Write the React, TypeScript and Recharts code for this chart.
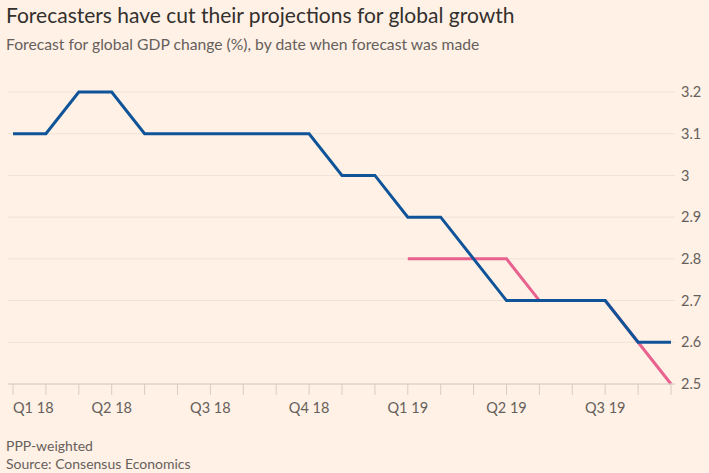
import React from "react";
import { LineChart, Line, XAxis, YAxis, CartesianGrid } from "recharts";

const months = [
  "Jan 18", "Feb 18", "Mar 18", "Apr 18", "May 18", "Jun 18", "Jul 18", "Aug 18", "Sep 18",
  "Oct 18", "Nov 18", "Dec 18", "Jan 19", "Feb 19", "Mar 19", "Apr 19", "May 19", "Jun 19",
  "Jul 19", "Aug 19", "Sep 19",
];
const quarterLabels: Record<string, string> = {
  "Jan 18": "Q1 18", "Apr 18": "Q2 18", "Jul 18": "Q3 18", "Oct 18": "Q4 18",
  "Jan 19": "Q1 19", "Apr 19": "Q2 19", "Jul 19": "Q3 19",
};
const forecast2019 = [3.1, 3.1, 3.2, 3.2, 3.1, 3.1, 3.1, 3.1, 3.1, 3.1, 3.0, 3.0, 2.9, 2.9, 2.8, 2.7, 2.7, 2.7, 2.7, 2.6, 2.6];
const forecast2020: (number | null)[] = [null, null, null, null, null, null, null, null, null, null, null, null, 2.8, 2.8, 2.8, 2.8, 2.7, 2.7, 2.7, 2.6, 2.5];
const yTicks = [2.5, 2.6, 2.7, 2.8, 2.9, 3, 3.1, 3.2];

const data = months.map((m, i) => ({ month: m, f2019: forecast2019[i], f2020: forecast2020[i] }));

const FONT = "Lato, 'Open Sans', sans-serif";

const XTick = (props: any) => {
  const { x, y, payload, index } = props;
  const label = quarterLabels[payload.value];
  if (!label) return null;
  return (
    <text x={x} y={y + 18} textAnchor={index === 0 ? "start" : "middle"} fill="#66605C" fontSize={14.5} fontFamily={FONT}>
      {label}
    </text>
  );
};

export default function App() {
  return (
    <div style={{ position: "fixed", left: 0, top: 0, width: 709, height: 473, background: "#FFF1E5", fontFamily: FONT, overflow: "hidden" }}>
      <div style={{ position: "absolute", left: 6, top: 2, fontSize: 21, color: "#33302E", whiteSpace: "nowrap" }}>
        Forecasters have cut their projections for global growth
      </div>
      <div style={{ position: "absolute", left: 6, top: 35, fontSize: 15.7, color: "#66605C", whiteSpace: "nowrap" }}>
        Forecast for global GDP change (%), by date when forecast was made
      </div>
      <div style={{ position: "absolute", left: 0, top: 0 }}>
        <LineChart width={709} height={473} data={data} margin={{ top: 92, right: 0, bottom: 0, left: 8 }}>
          <CartesianGrid vertical={false} stroke="#EFE2D6" strokeWidth={1} />
          <XAxis
            dataKey="month"
            interval={0}
            padding={{ left: 5, right: 4 }}
            height={89}
            tickSize={11}
            tickMargin={0}
            tickLine={{ stroke: "#D9CCC1" }}
            axisLine={{ stroke: "#D9CCC1" }}
            tick={<XTick />}
          />
          <YAxis
            orientation="right"
            domain={[2.5, 3.2]}
            ticks={yTicks}
            width={34}
            axisLine={false}
            tickLine={false}
            tickSize={4}
            tickMargin={2}
            tick={{ fill: "#66605C", fontSize: 14.5, fontFamily: FONT, textAnchor: "start" }}
          />
          <Line dataKey="f2020" stroke="#E8628F" strokeWidth={3} dot={false} isAnimationActive={false} connectNulls={false} strokeLinejoin="miter" />
          <Line dataKey="f2019" stroke="#0F5499" strokeWidth={3} dot={false} isAnimationActive={false} strokeLinejoin="miter" />
        </LineChart>
      </div>
      <div style={{ position: "absolute", left: 6, top: 437, fontSize: 14, color: "#66605C", lineHeight: "18px" }}>
        <div>PPP-weighted</div>
        <div>Source: Consensus Economics</div>
      </div>
    </div>
  );
}
